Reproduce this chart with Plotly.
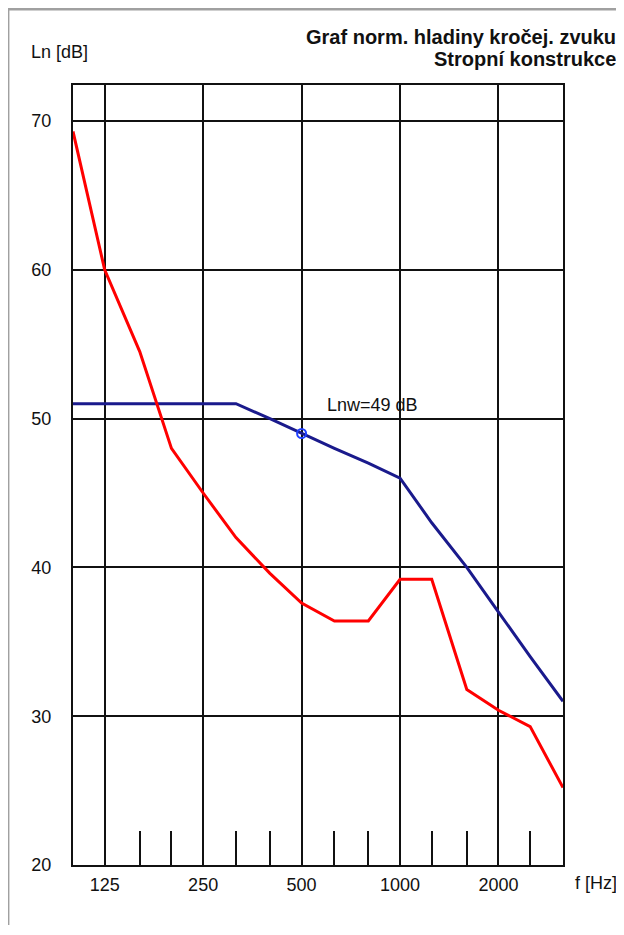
import plotly.graph_objects as go

freqs = [100, 125, 160, 200, 250, 315, 400, 500, 630, 800, 1000, 1250, 1600, 2000, 2500, 3150]
measured = [69.3, 60.0, 54.5, 48.0, 45.0, 42.0, 39.6, 37.6, 36.4, 36.4, 39.2, 39.2, 31.8, 30.4, 29.3, 25.2]
reference = [51, 51, 51, 51, 51, 51, 50, 49, 48, 47, 46, 43, 40, 37, 34, 31]
major_ticks = [125, 250, 500, 1000, 2000]
minor_ticks = [160, 200, 315, 400, 630, 800, 1250, 1600, 2500]
y_ticks = [20, 30, 40, 50, 60, 70]
lnw_freq = 500
lnw_value = 49
title_lines = ["Graf norm. hladiny kročej. zvuku", "Stropní konstrukce"]

FONT = "Liberation Sans, Arial"

fig = go.Figure()
fig.add_trace(go.Scatter(x=freqs, y=reference, mode="lines",
                         line=dict(color="#1a1a8c", width=3), hoverinfo="skip"))
fig.add_trace(go.Scatter(x=freqs, y=measured, mode="lines",
                         line=dict(color="#ff0000", width=3), hoverinfo="skip"))
fig.add_trace(go.Scatter(x=[lnw_freq], y=[lnw_value], mode="markers",
                         marker=dict(symbol="circle-open", size=9, color="#2040ff",
                                     line=dict(width=2, color="#2040ff")),
                         hoverinfo="skip"))

fig.add_annotation(x=0.612, xref="x domain", y=lnw_value + 1.9, yref="y",
                   text="Lnw=%d dB" % lnw_value, showarrow=False,
                   font=dict(family=FONT, size=18, color="#111"),
                   xanchor="center", yanchor="middle")

fig.update_layout(
    width=616, height=927,
    margin=dict(l=65, r=61, t=77, b=70),
    paper_bgcolor="white", plot_bgcolor="white",
    showlegend=False,
    font=dict(family=FONT, size=18, color="#111"),
    xaxis=dict(type="log", range=[2.0, 3.4983],
               tickmode="array", tickvals=major_ticks, ticktext=[str(t) for t in major_ticks],
               showgrid=True, gridcolor="#111", gridwidth=1.6,
               showline=True, linecolor="#111", linewidth=2, mirror=True,
               ticks="", ticklabelstandoff=2, zeroline=False,
               minor=dict(tickmode="array", tickvals=minor_ticks, ticks="inside",
                          ticklen=34, tickwidth=1.6, tickcolor="#111", showgrid=False)),
    yaxis=dict(range=[20, 72.42], tickmode="array", tickvals=y_ticks,
               showgrid=True, gridcolor="#111", gridwidth=1.6,
               showline=True, linecolor="#111", linewidth=2, mirror=True,
               ticks="", ticklabelstandoff=16, zeroline=False),
)

# title lines (right aligned)
for i, line in enumerate(title_lines):
    fig.add_annotation(x=1.112, xref="paper", y=1.0615 - i * 0.0282, yref="paper",
                       text="<b>%s</b>" % line, showarrow=False,
                       xanchor="right", yanchor="middle",
                       font=dict(family=FONT, size=20, color="#111"))

fig.add_annotation(x=0, xref="paper", y=1.0423, yref="paper", text="Ln [dB]",
                   showarrow=False, xanchor="center", yanchor="middle", xshift=-14,
                   font=dict(family=FONT, size=18, color="#111"))
fig.add_annotation(x=1, xref="paper", y=0, yref="paper", text="f [Hz]",
                   showarrow=False, xanchor="left", yanchor="top", xshift=10, yshift=-6,
                   font=dict(family=FONT, size=18, color="#111"))

# outer window frame
fig.add_shape(type="line", xref="paper", yref="paper",
              x0=-0.1338, x1=1.2, y0=1.0975, y1=1.0975, line=dict(color="#a0a0a0", width=3))
fig.add_shape(type="line", xref="paper", yref="paper",
              x0=-0.1318, x1=-0.1318, y0=1.0987, y1=-0.077, line=dict(color="#a0a0a0", width=2))

fig.write_html("out.html")
